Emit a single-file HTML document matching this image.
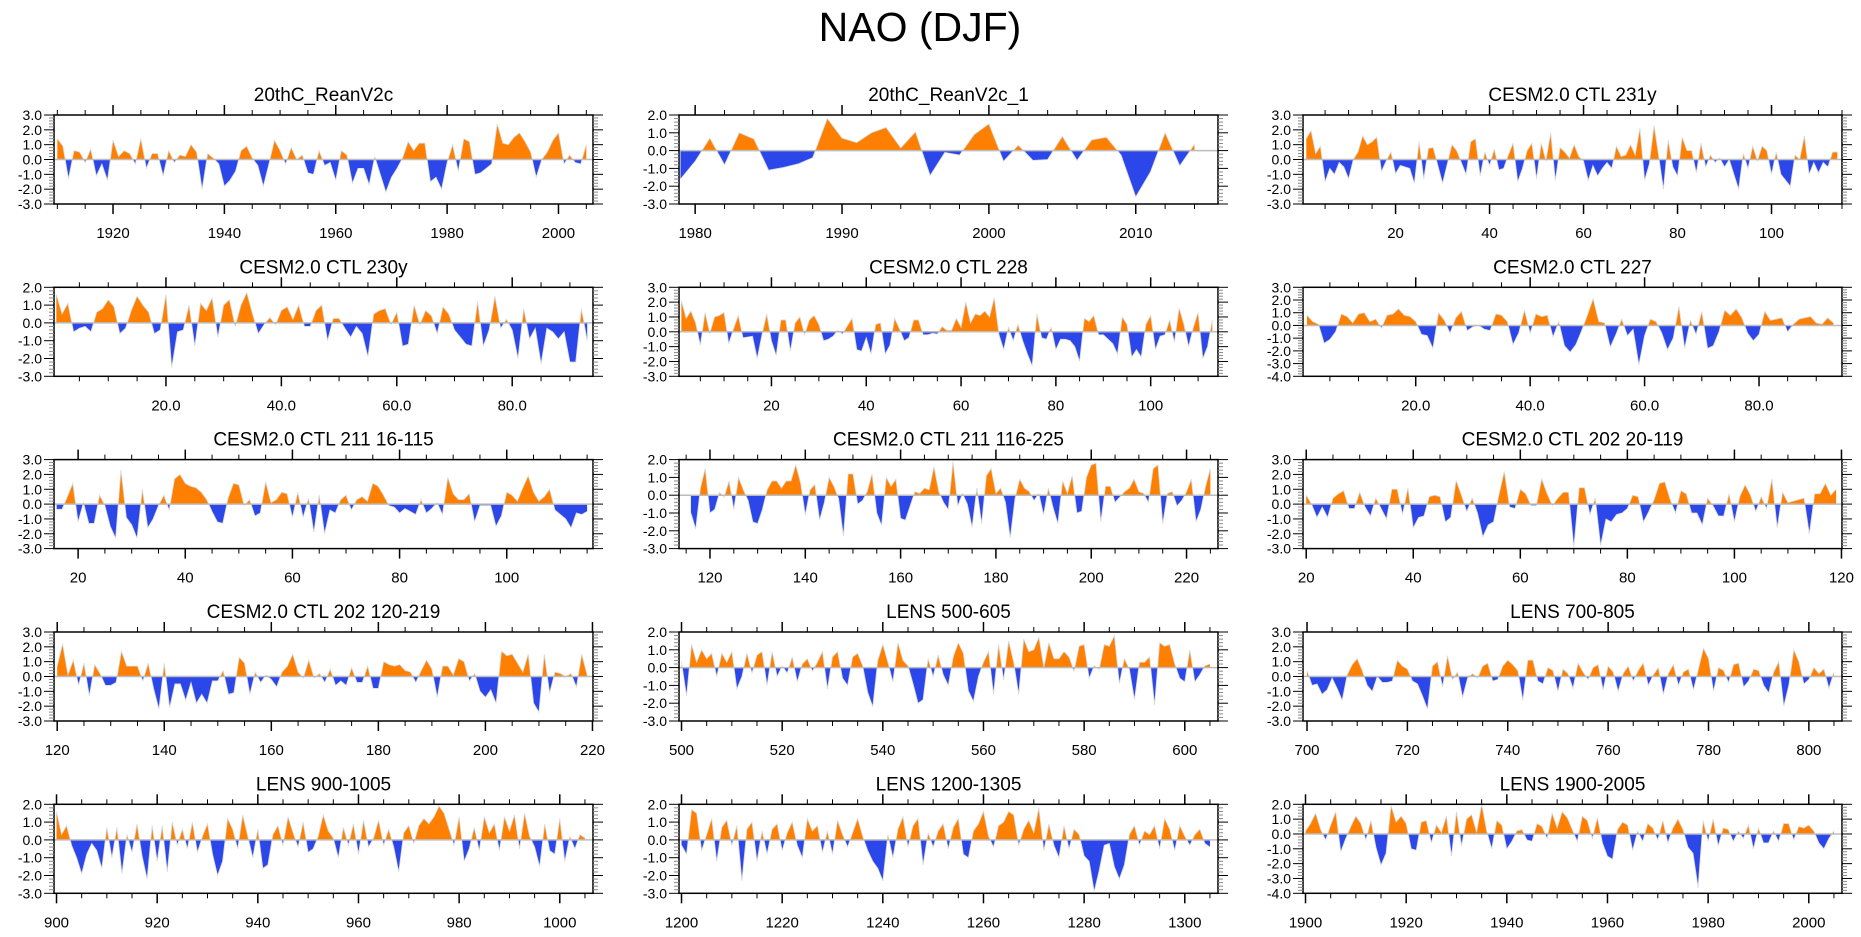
<!DOCTYPE html>
<html><head><meta charset="utf-8"><title>NAO (DJF)</title>
<style>
html,body{margin:0;padding:0;background:#fff;}
svg{display:block;font-family:"Liberation Sans",Arial,sans-serif;}
</style></head>
<body>
<svg id="chart" width="1861" height="937" viewBox="0 0 1861 937" xmlns="http://www.w3.org/2000/svg">
<text x="920" y="41" text-anchor="middle" font-size="41">NAO (DJF)</text>
</svg>
<script>
// ---- data arrays (one value per year, starting at the given start year) ----
const titles = ["20thC_ReanV2c","20thC_ReanV2c_1","CESM2.0 CTL 231y","CESM2.0 CTL 230y","CESM2.0 CTL 228","CESM2.0 CTL 227","CESM2.0 CTL 211 16-115","CESM2.0 CTL 211 116-225","CESM2.0 CTL 202 20-119","CESM2.0 CTL 202 120-219","LENS 500-605","LENS 700-805","LENS 900-1005","LENS 1200-1305","LENS 1900-2005"];
const startYears = [1910,1979,1,1,1,1,16,116,20,120,500,700,900,1200,1900];
const xMins = [1909.4,1978.9,0.3,0.6,0.5,0.3,15.5,113.5,19.4,119.4,499.5,699.2,899.5,1199.5,1899.5];
const xMaxs = [2006.2,2015.6,115,94,114.2,94.5,116.1,226.6,120.1,220.1,606.6,806.6,1006.6,1306.6,2006.6];
const yTops = [3,2,3,2,3,3,3,2,3,3,2,3,2,2,2];
const yBots = [-3,-3,-3,-3,-3,-4,-3,-3,-3,-3,-3,-3,-3,-3,-4];
const majorSteps = [20,10,20,20,20,20,20,20,20,20,20,20,20,20,20];
const minorSteps = [5,2,5,5,5,5,5,5,5,5,5,5,5,5,5];
const labelDecimals = [0,0,0,1,0,1,0,0,0,0,0,0,0,0,0];

const s1 = [1.4,0.9,-1.3,0.6,0.5,-0.2,0.7,-1.1,-0.3,-1.4,1.3,0.2,0.6,0.4,-0.3,1.4,-0.6,0.4,0.4,-1.1,0.6,-0.2,0.3,0.2,1.0,0.5,-2.0,0.4,0.1,-0.3,-1.8,-1.4,-0.8,0.6,0.9,0.1,-0.4,-1.8,-0.3,1.3,0.6,-0.3,0.8,0.0,0.3,-0.9,-1.0,0.6,-0.4,-0.2,-1.4,0.6,0.3,-1.6,-0.6,-0.6,-1.7,0.2,-1.0,-2.2,-1.2,-0.6,0.1,1.2,0.6,1.1,1.1,-1.5,-1.2,-2.0,-0.2,1.0,-0.8,1.4,1.2,-1.0,-0.9,-0.6,-0.3,2.4,1.1,1.0,1.5,1.8,1.2,0.5,-1.2,0.0,0.5,1.3,1.8,-0.3,0.3,-0.2,-0.3,1.0];
const s2 = [-1.6,-0.6,0.7,-0.8,1.0,0.65,-1.1,-0.95,-0.75,-0.4,1.8,0.7,0.45,1.0,1.3,0.15,1.05,-1.4,-0.1,-0.25,0.9,1.5,-0.6,0.3,-0.55,-0.5,0.8,-0.55,0.6,0.75,-0.25,-2.6,-1.2,1.0,-0.85,0.35];
const s3 = [1.4,1.95,0.4,0.9,-1.5,-0.6,-1.0,-0.2,-0.5,-1.3,0.0,0.5,1.6,1.0,1.2,1.5,-0.8,-0.1,0.5,-0.95,-0.4,-0.5,-0.6,-1.6,1.2,-1.3,0.75,0.8,-0.4,-1.6,-0.3,1.0,0.6,-0.2,-1.0,1.2,1.4,-1.1,0.5,-0.4,0.7,-0.7,-0.6,0.3,1.1,-1.5,-0.6,0.6,1.1,-1.3,1.1,-0.1,1.8,-1.4,0.8,0.5,0.1,1.0,0.2,-0.1,-1.4,-0.4,-1.1,-0.6,-0.2,-0.6,0.9,0.2,0.3,1.0,0.3,2.1,-1.4,-0.3,2.3,0.2,-2.0,1.3,-0.5,-1.1,1.5,0.6,0.6,-0.9,1.1,-0.5,0.3,-0.2,0.1,-0.5,0.0,-1.0,-2.0,0.4,-0.6,0.9,-0.1,0.9,0.6,-1.0,0.5,-1.0,-1.4,-1.8,0.3,0.0,1.6,-1.0,-0.2,-0.9,-0.2,-0.5,0.5,0.5];
const s4 = [1.6,0.5,1.1,-0.5,-0.3,-0.2,-0.5,0.6,0.8,1.3,0.9,-0.6,-0.3,0.7,1.5,1.0,0.6,-0.6,-0.4,1.6,-2.5,-0.5,-0.4,1.0,-1.3,1.1,0.7,1.4,-0.8,1.0,1.3,-0.2,1.0,1.7,0.5,-0.6,-0.1,0.3,-0.1,0.7,0.9,0.2,1.0,-0.2,-0.2,0.7,1.0,-1.0,0.25,0.25,-0.3,-0.8,-0.2,-0.6,-1.9,0.5,0.7,0.8,-0.1,0.6,-1.3,-1.2,1.0,-0.1,0.7,0.4,-0.6,0.9,0.5,-0.4,-0.8,-1.2,-1.3,1.2,-1.3,-0.4,1.5,-0.3,0.2,-0.4,-2.0,0.8,-0.9,-0.3,-2.3,-0.3,-0.5,-0.9,-0.5,-2.2,-2.2,0.8,-1.0];
const s5 = [2.1,0.9,1.4,0.6,-0.9,1.3,-0.1,1.0,1.1,1.3,-0.8,0.2,1.1,-0.4,-0.35,-0.3,-1.8,-0.2,1.2,-0.6,-1.6,0.8,0.8,-1.3,0.6,1.0,-0.2,0.8,1.1,0.5,-0.6,-0.5,-0.3,0.1,-0.15,0.4,0.9,-1.2,-1.3,-0.4,-1.5,0.5,0.6,-1.5,-0.9,0.9,0.2,-0.6,-0.4,0.8,0.8,-0.2,-0.2,-0.1,-0.15,0.35,0.1,0.1,0.9,0.3,2.0,0.6,1.2,1.1,1.4,1.0,2.3,-0.2,-1.2,0.3,-0.6,0.5,-0.6,-1.5,-2.3,1.2,-0.4,-0.5,0.3,-1.2,-0.5,-0.5,-0.6,-1.0,-2.0,0.9,0.7,1.1,-0.2,-0.2,-0.5,-0.8,-1.5,1.0,0.5,-1.7,-1.2,-1.7,0.5,1.1,-1.2,-0.3,-0.2,0.8,-0.7,1.6,0.5,-1.0,0.3,1.3,-1.8,-1.0,0.8];
const s6 = [0.8,0.3,0.1,-1.4,-1.1,-0.5,0.9,0.7,0.2,0.9,1.0,0.3,0.5,-0.2,0.8,0.9,1.3,0.8,0.7,0.3,-0.7,-0.8,-1.8,1.0,0.4,-0.6,0.6,1.1,-0.4,-0.1,0.0,-0.3,-0.4,0.9,0.8,0.3,-1.5,-0.6,1.2,-0.6,0.9,0.7,0.8,-0.9,0.3,-1.6,-2.1,-1.5,-0.4,0.8,2.1,0.3,0.2,-1.7,-0.7,0.5,-0.8,-0.3,-3.1,-0.8,0.5,0.3,-0.6,-1.9,-1.0,1.5,-1.8,0.4,-0.7,1.1,-1.8,-1.6,-0.5,1.2,0.8,1.3,0.6,-0.6,-1.2,-0.7,1.1,0.4,0.5,0.6,-0.5,0.1,0.5,0.6,0.7,0.2,0.1,0.6,0.2];
const s7 = [-0.35,-0.35,0.5,1.4,-1.2,0.1,-1.3,-1.3,0.6,-0.1,-1.5,-2.3,2.3,-0.9,-1.4,-2.3,1.0,-1.6,-1.0,-0.1,0.6,-0.4,1.7,2.0,1.4,1.2,1.1,0.8,0.3,-0.5,-1.2,-1.3,0.4,1.4,1.3,-0.1,0.3,-0.8,-0.6,1.5,0.1,0.3,0.8,0.7,-0.9,0.8,-0.9,0.4,-1.9,0.6,-2.0,-0.4,-0.6,0.3,0.6,-0.4,0.3,0.5,0.2,1.4,1.2,0.6,-0.1,-0.2,-0.6,-0.3,-0.5,-0.7,0.3,-0.6,-0.3,0.1,-0.7,1.8,0.7,0.3,0.3,0.7,-1.2,-0.1,-0.1,-0.1,-1.5,-0.8,0.8,0.6,0.2,1.1,1.9,0.8,0.2,0.5,1.0,-0.4,-0.7,-1.0,-1.6,-0.6,-0.7,-0.5];
const s8 = [-1.0,-1.9,0.4,1.5,-1.0,-0.8,0.15,-0.1,0.8,-0.8,1.0,0.3,-0.3,-1.5,-1.6,-0.8,0.3,0.8,0.8,0.4,0.8,0.8,1.7,0.7,-1.1,0.3,0.6,-1.4,-0.4,1.0,0.5,-0.2,-2.3,1.2,1.2,-0.5,-0.3,0.2,1.2,-1.0,-1.7,1.0,0.5,0.9,-1.3,-1.4,-0.6,0.2,0.1,0.4,0.3,1.6,0.2,-0.4,-0.8,1.9,-0.6,0.1,-0.5,-1.8,0.4,-1.6,1.1,1.5,0.1,0.4,-0.4,-2.4,-0.2,0.9,0.4,0.2,-0.3,0.1,-1.1,0.4,-0.7,-1.6,0.8,0.1,1.1,-1.0,-0.9,1.0,1.7,1.8,-1.5,0.5,0.5,-0.4,-0.1,0.2,0.4,0.9,0.2,0.1,-0.4,1.5,1.7,-1.6,0.1,0.2,-0.6,-0.3,0.2,0.9,-1.5,-0.8,0.5,1.5];
const s9 = [0.6,0.0,-0.9,-0.2,-0.9,0.4,0.7,0.9,-0.3,-0.3,0.8,-0.2,-0.8,0.4,-0.3,-1.0,1.0,1.0,-0.7,1.1,-1.6,-0.9,-0.8,0.5,0.6,0.5,-1.2,-0.9,1.6,0.6,-0.5,0.4,-0.6,-2.2,-1.4,-1.2,0.6,2.2,-0.2,-0.3,1.0,0.7,-0.1,-0.1,1.7,0.7,-0.1,0.4,0.8,0.8,-2.9,1.1,1.1,-0.7,0.4,-2.8,-1.0,-1.2,-0.7,-0.6,-0.3,0.6,0.5,-1.2,-0.5,0.3,1.4,1.5,0.3,-0.6,0.9,0.7,-0.6,-0.6,-1.4,0.4,-0.1,-0.8,-0.8,0.7,-1.2,0.5,1.3,0.6,-0.5,0.5,-0.3,1.7,-1.6,0.8,0.1,0.2,0.3,0.4,-2.0,0.7,0.7,1.4,0.6,1.0];
const s10 = [0.7,2.2,0.1,1.1,-0.6,0.9,-1.3,0.8,0.2,-0.6,-0.6,-0.4,1.7,0.7,0.7,0.7,-0.3,0.9,-0.8,-2.2,0.9,-2.1,-0.5,-0.5,-1.6,-0.4,-1.8,-1.2,-1.8,-0.3,-0.3,0.4,-1.2,-1.1,1.3,0.9,-1.2,0.3,-0.4,0.1,-0.2,-0.7,0.3,0.7,1.5,0.3,-0.1,1.1,-0.1,0.2,-0.4,0.5,-0.6,-0.3,-0.6,0.6,-0.4,-0.4,0.7,-0.8,-0.8,1.0,0.8,0.7,0.8,0.4,0.3,-0.4,0.4,1.1,0.5,-1.4,0.7,0.7,0.1,1.2,1.0,-0.3,0.2,-1.0,-1.4,-0.9,-1.8,1.7,1.4,1.5,0.9,0.3,1.5,-1.8,-2.4,1.5,-1.1,0.3,0.2,0.0,0.2,-0.7,1.5,0.1];
const s11 = [0.3,-1.6,1.3,0.3,1.0,0.5,0.8,-0.5,0.8,0.3,0.9,-1.2,-0.5,0.8,-0.3,0.7,0.9,-1.0,0.9,-0.5,0.1,-0.3,0.6,-0.8,0.2,0.5,-0.2,0.3,0.9,-1.2,0.6,0.9,-0.6,-1.0,0.6,0.8,0.1,-1.4,-2.2,0.4,1.3,0.3,-0.8,1.4,0.4,0.1,-0.9,-2.0,-1.8,0.5,-0.5,0.7,-0.4,-1.0,0.6,1.4,0.8,-1.3,-1.9,-0.5,0.3,0.9,-1.5,1.3,-0.7,1.5,0.3,-1.5,1.6,0.9,1.0,1.7,0.0,1.4,0.5,0.5,0.9,0.6,-0.2,1.2,1.3,-0.6,0.1,-0.1,1.3,1.2,1.8,-0.9,0.5,-0.1,-1.8,0.3,0.3,0.6,-2.1,1.4,1.2,1.3,0.2,-0.6,-0.8,1.0,-0.8,-0.4,0.1,0.2];
const s12 = [0.4,-0.6,-0.5,-1.2,-0.9,-0.1,-0.8,-1.6,0.1,0.8,1.2,0.4,-0.6,-1.0,0.0,-0.4,-0.4,-0.3,1.1,0.7,0.5,-0.3,-0.5,-1.3,-2.2,0.7,1.0,-0.7,1.4,-0.2,0.3,-1.4,-0.1,0.2,-0.1,0.7,0.9,-0.3,-0.2,0.7,1.1,0.8,0.4,-1.6,1.1,1.1,-0.3,-0.5,0.6,0.4,-1.0,0.5,0.2,-0.8,0.9,0.3,-0.2,0.6,0.8,-0.9,0.7,0.3,-1.0,0.2,0.7,-0.3,0.4,0.9,-0.6,0.1,0.6,-1.2,0.2,0.8,-0.6,0.3,0.5,-0.9,0.5,1.9,1.2,-1.0,0.6,0.4,-0.4,0.8,0.9,-0.7,-0.3,0.5,0.4,-0.6,-1.1,0.3,1.0,-2.0,-0.6,1.8,1.0,-0.5,-0.2,0.6,0.2,0.5,-0.8,0.3];
const s13 = [1.6,0.3,0.8,-0.3,-1.0,-1.9,-0.8,-0.2,-0.6,-1.6,0.7,-1.0,0.7,-1.9,0.3,-0.7,0.9,-0.9,-2.2,0.8,-1.2,0.8,-1.8,1.0,-0.3,0.6,-0.5,1.0,-0.7,0.2,0.9,-0.8,-2.0,-1.2,1.2,0.6,-0.5,1.4,0.2,-1.0,0.6,-1.6,-1.4,0.3,0.8,-0.3,1.3,0.4,-0.4,1.0,-0.7,-0.5,0.2,1.4,0.5,0.1,-1.0,0.7,-0.3,0.9,-0.8,1.1,-0.4,0.1,1.1,-0.3,0.6,-0.4,-1.8,0.4,0.8,-0.2,0.8,1.2,0.9,1.3,1.9,1.5,0.6,-0.3,1.3,-1.2,-0.5,0.7,-0.6,1.3,0.4,0.9,-0.6,1.3,0.5,1.4,-0.5,1.5,0.2,-0.4,-1.5,0.9,-0.6,-0.8,1.2,-1.2,0.2,-0.5,0.3,0.1];
const s14 = [-0.3,-0.8,1.7,1.5,-0.6,0.3,1.2,-1.2,0.7,1.1,-0.3,0.8,-2.3,0.6,1.0,-1.2,0.5,-0.8,0.6,0.9,-0.6,0.4,1.0,-0.3,-1.0,1.2,0.5,0.8,-0.7,0.5,-0.8,1.1,0.3,-0.4,0.4,1.2,0.2,-0.6,-1.2,-1.6,-2.3,0.3,-1.0,0.6,1.3,-0.4,0.8,1.2,-1.4,0.4,-0.4,0.5,0.9,-0.5,0.7,1.2,-0.8,-1.0,0.5,0.9,1.6,0.2,-0.4,0.8,1.0,1.6,1.4,-0.3,0.6,1.1,0.4,1.8,-0.6,0.9,-0.3,-1.0,0.8,-0.5,0.6,0.3,-0.9,-1.2,-2.9,-1.7,-0.3,-0.2,-1.5,-2.2,-1.4,0.3,0.8,-0.3,0.5,0.3,0.8,-0.5,1.2,0.6,-0.6,0.8,0.2,-0.3,0.3,0.6,-0.2,-0.4];
const s15 = [0.2,0.7,1.4,0.3,-0.4,0.6,1.5,-1.2,-0.3,0.5,1.2,0.7,-0.4,0.9,-0.9,-2.1,-1.3,1.9,0.8,1.2,0.7,-1.0,-1.1,0.8,0.9,-0.6,0.6,0.1,1.2,-1.5,1.5,-0.8,1.0,1.3,0.1,2.0,0.2,-1.0,0.9,0.6,-1.0,-0.5,0.2,0.3,-0.4,-0.5,0.7,0.5,-0.3,1.4,0.4,1.5,1.1,0.3,-0.5,1.2,0.9,-0.3,1.1,-0.6,-1.5,-1.7,0.3,0.8,0.6,-1.1,0.2,-0.5,0.7,0.4,-0.4,0.9,-0.6,0.4,1.0,0.3,-0.9,-1.3,-3.6,0.9,-0.5,1.0,-0.8,0.4,0.3,-0.5,0.2,-0.3,0.6,-1.0,0.4,-0.6,-0.6,0.2,-0.5,0.7,0.7,-0.4,0.5,0.4,0.6,0.2,-0.6,-1.0,-0.3,0.2];
const seriesList = [s1,s2,s3,s4,s5,s6,s7,s8,s9,s10,s11,s12,s13,s14,s15];

// ---- layout ----
const colLeft = [54, 679, 1303];
const rowTop = [115, 287.3, 459.6, 632, 804.3];
const PW = 539, PH = 89;
const NS = "http://www.w3.org/2000/svg";
const svg = document.getElementById('chart');
function mk(tag, attrs, parent){
  const e = document.createElementNS(NS, tag);
  for (const k in attrs) e.setAttribute(k, attrs[k]);
  (parent||svg).appendChild(e);
  return e;
}
const defs = mk('defs', {});

seriesList.forEach((vals, p) => {
  const L = colLeft[p % 3], T = rowTop[Math.floor(p / 3)];
  const x0 = xMins[p], x1 = xMaxs[p], yt = yTops[p], yb = yBots[p];
  const xs = v => L + (v - x0) / (x1 - x0) * PW;
  const ys = v => T + (yt - v) / (yt - yb) * PH;
  const g = mk('g', {});
  
  

  const tt = mk('text', {x: L + PW / 2, y: T - 14, 'text-anchor': 'middle', 'font-size': 19}, g);
  tt.textContent = titles[p];
  
  

  const y0 = ys(0);
  const cpA = mk('clipPath', {id: 'ca' + p}, defs);
  mk('rect', {x: L, y: T, width: PW, height: y0 - T}, cpA);
  const cpB = mk('clipPath', {id: 'cb' + p}, defs);
  mk('rect', {x: L, y: y0, width: PW, height: T + PH - y0}, cpB);

  let pts = vals.map((v, i) => [xs(startYears[p] + i), ys(v)]);
  let d = 'M' + pts[0][0].toFixed(2) + ',' + y0.toFixed(2);
  pts.forEach(q => { d += 'L' + q[0].toFixed(2) + ',' + q[1].toFixed(2); });
  d += 'L' + pts[pts.length - 1][0].toFixed(2) + ',' + y0.toFixed(2) + 'Z';
  const pos = mk('path', {d: d, fill: '#ff8000', 'clip-path': 'url(#ca' + p + ')'}, g);
  
  
  const neg = mk('path', {d: d, fill: '#2b47ea', 'clip-path': 'url(#cb' + p + ')'}, g);
  
  
  const line = mk('polyline', {points: pts.map(q => q[0].toFixed(2) + ',' + q[1].toFixed(2)).join(' '), fill: 'none', stroke: '#d8d8d8', 'stroke-width': 0.8}, g);
  
  

  const zl = mk('line', {x1: L, x2: L + PW, y1: y0, y2: y0, stroke: '#bdbdbd', 'stroke-width': 1.5}, g);
  
  

  const fr = mk('rect', {x: L, y: T, width: PW, height: PH, fill: 'none', stroke: '#000', 'stroke-width': 1.5}, g);
  
  

  const mj = majorSteps[p], mn = minorSteps[p];
  for (let v = Math.ceil(x0 / mn) * mn; v <= x1; v += mn) {
    const X = xs(v), big = (v % mj === 0), len = big ? 10 : 5;
    mk('line', {x1: X, x2: X, y1: T, y2: T - len, stroke: '#000', 'stroke-width': big ? 1.5 : 1}, g);
    mk('line', {x1: X, x2: X, y1: T + PH, y2: T + PH + len, stroke: '#000', 'stroke-width': big ? 1.5 : 1}, g);
    if (big) {
      const lb = mk('text', {x: X, y: T + PH + 34, 'text-anchor': 'middle', 'font-size': 15}, g);
      lb.textContent = v.toFixed(labelDecimals[p]);
      
      
    }
  }
  for (let k = Math.round(yb * 5); k <= Math.round(yt * 5); k++) {
    const v = k / 5, Y = ys(v), big = (k % 5 === 0), len = big ? 10 : 5;
    mk('line', {x1: L, x2: L - len, y1: Y, y2: Y, stroke: big ? '#000' : '#888', 'stroke-width': 1}, g);
    mk('line', {x1: L + PW, x2: L + PW + len, y1: Y, y2: Y, stroke: big ? '#000' : '#888', 'stroke-width': 1}, g);
    if (big) {
      const lb = mk('text', {x: L - 12, y: Y + 5, 'text-anchor': 'end', 'font-size': 14}, g);
      lb.textContent = v.toFixed(1);
      
      
    }
  }
});
</script>
</body></html>
